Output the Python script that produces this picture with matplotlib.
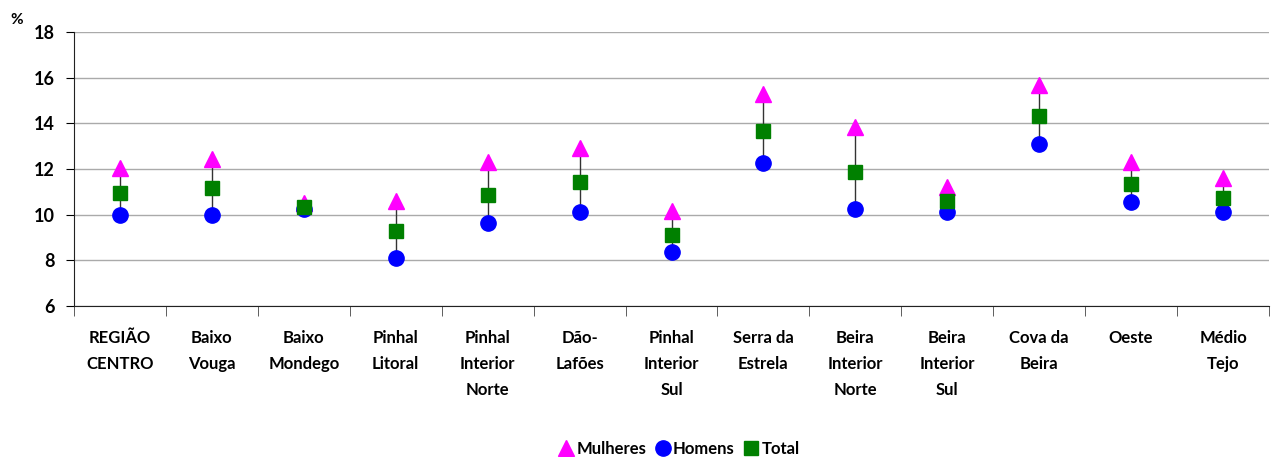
import numpy as np
import matplotlib
matplotlib.use("Agg")
import matplotlib.pyplot as plt
from matplotlib.ticker import FixedLocator

# ---------------- Data ----------------
categories = ["REGIÃO\nCENTRO", "Baixo\nVouga", "Baixo\nMondego", "Pinhal\nLitoral",
              "Pinhal\nInterior\nNorte", "Dão-\nLafões", "Pinhal\nInterior\nSul",
              "Serra da\nEstrela", "Beira\nInterior\nNorte", "Beira\nInterior\nSul",
              "Cova da\nBeira", "Oeste", "Médio\nTejo"]
mulheres = [12.05, 12.45, 10.5, 10.6, 12.3, 12.9, 10.15, 15.3, 13.85, 11.2, 15.7, 12.3, 11.6]
homens = [10.0, 10.0, 10.25, 8.1, 9.65, 10.1, 8.35, 12.25, 10.25, 10.1, 13.1, 10.55, 10.1]
total = [10.95, 11.15, 10.35, 9.3, 10.85, 11.45, 9.1, 13.65, 11.85, 10.6, 14.3, 11.35, 10.75]

plt.rcParams['font.family'] = ['Lato', 'DejaVu Sans']

fig = plt.figure(figsize=(12.79, 4.57), dpi=100)
ax = fig.add_axes([74 / 1279, 151 / 457, 1195 / 1279, 274 / 457])

x = np.arange(len(categories))

# high-low lines
ax.vlines(x, homens, mulheres, color="#333333", linewidth=1.0, zorder=2)

ax.plot(x, mulheres, linestyle="none", marker="^", markersize=12, color="#FF00FF",
        label="Mulheres", zorder=3)
ax.plot(x, homens, linestyle="none", marker="o", markersize=11, color="#0000FF",
        label="Homens", zorder=3)
ax.plot(x, total, linestyle="none", marker="s", markersize=10, color="#008000",
        label="Total", zorder=4)

ax.set_ylim(6, 18)
ax.set_yticks(range(6, 19, 2))
ax.set_xlim(-0.5, len(categories) - 0.5)
ax.set_xticks(x)
ax.set_xticklabels(categories, fontsize=12, fontweight="bold", linespacing=1.78, va="top")
ax.xaxis.set_minor_locator(FixedLocator(np.arange(-0.5, len(categories), 1.0)))
ax.tick_params(axis="x", which="major", length=0, pad=17)
ax.tick_params(axis="x", which="minor", length=7, direction="out", color="#444444")
ax.tick_params(axis="y", length=6, direction="out", labelsize=13, pad=8)
for lbl in ax.get_yticklabels():
    lbl.set_fontweight("bold")

ax.grid(axis="y", color="#aaaaaa", linewidth=1.0)
ax.set_axisbelow(True)
for s in ["top", "right"]:
    ax.spines[s].set_visible(False)
ax.spines["left"].set_color("#222222")
ax.spines["bottom"].set_color("#222222")

fig.text(10 / 1279, 1 - 20 / 457, "%", fontsize=11, fontweight="bold", va="center")

leg = fig.legend(loc="center", bbox_to_anchor=(0.53, 1 - 449 / 457), ncol=3, frameon=False,
                 handletextpad=0.0, columnspacing=0.4, handlelength=1.2,
                 prop={"weight": "bold", "size": 12})

fig.savefig("out.png", dpi=100)
